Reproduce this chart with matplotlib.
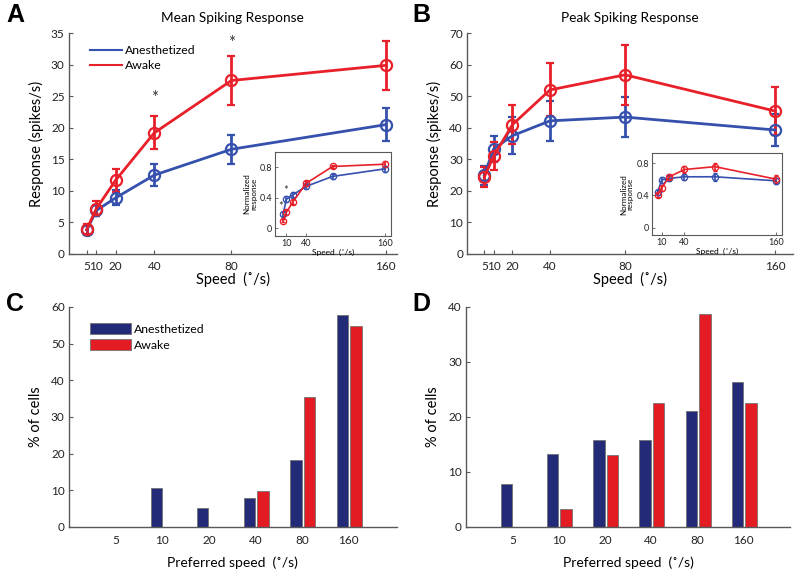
import matplotlib
matplotlib.use("Agg")
import matplotlib.pyplot as plt
from matplotlib.patches import Patch
import numpy as np

plt.rcParams['font.family'] = ['Lato', 'DejaVu Sans']

speeds = [5, 10, 20, 40, 80, 160]

# Panel A: mean spiking response
meanA_anes = [3.8, 6.9, 8.9, 12.5, 16.6, 20.5]
errA_anes = [0.7, 0.9, 1.2, 1.8, 2.3, 2.6]
meanA_awake = [3.9, 7.2, 11.7, 19.2, 27.5, 29.9]
errA_awake = [0.9, 1.2, 1.8, 2.6, 3.9, 3.9]
sigA_x = [40, 80]
sigA_y = [24.8, 33.4]

# Inset A: normalized
normA_anes = [0.19, 0.38, 0.44, 0.55, 0.68, 0.78]
nerrA_anes = [0.03, 0.04, 0.03, 0.03, 0.03, 0.04]
normA_awake = [0.10, 0.21, 0.35, 0.59, 0.81, 0.84]
nerrA_awake = [0.02, 0.03, 0.03, 0.03, 0.02, 0.04]
sigAi_x = [1.5, 9.5]
sigAi_y = [0.29, 0.50]

# Panel B: peak spiking response
peakB_anes = [25.0, 33.3, 37.5, 42.2, 43.4, 39.3]
errB_anes = [3.0, 4.0, 5.8, 6.3, 6.3, 5.0]
peakB_awake = [24.4, 31.0, 41.0, 52.0, 56.8, 45.3]
errB_awake = [3.3, 4.4, 6.2, 8.4, 9.5, 7.5]

# Inset B: normalized
normB_anes = [0.44, 0.59, 0.61, 0.63, 0.63, 0.58]
nerrB_anes = [0.03, 0.04, 0.03, 0.04, 0.05, 0.04]
normB_awake = [0.41, 0.49, 0.63, 0.72, 0.755, 0.60]
nerrB_awake = [0.03, 0.04, 0.03, 0.04, 0.05, 0.05]

# Panels C, D: preferred speed histograms
pref_labels = ['5', '10', '20', '40', '80', '160']
prefC_anes = [0.0, 10.5, 5.3, 7.9, 18.4, 57.9]
prefC_awake = [0.0, 0.0, 0.0, 9.7, 35.5, 54.8]
prefD_anes = [7.9, 13.2, 15.8, 15.8, 21.0, 26.3]
prefD_awake = [0.0, 3.3, 13.0, 22.5, 38.7, 22.5]

BLUE = '#3550ad'
RED = '#e8202a'
BAR_BLUE = '#232a78'
BAR_RED = '#e31b23'
SPINE = '0.35'

fig = plt.figure(figsize=(8.0, 5.72), dpi=100)

def style_main(ax):
    ax.spines['top'].set_visible(False)
    ax.spines['right'].set_visible(False)
    for s in ['left', 'bottom']:
        ax.spines[s].set_color(SPINE)
        ax.spines[s].set_linewidth(1.0)
    ax.tick_params(direction='in', length=3, width=0.8, colors=SPINE,
                   labelcolor='#222222', labelsize=8.5)
    ax.tick_params(axis='y', pad=3)
    ax.tick_params(axis='x', pad=5)

def line_panel(ax, y1, e1, y2, e2, ms=8, lw=2.0, cs=3):
    ax.errorbar(speeds, y1, yerr=e1, color=BLUE, marker='o', mfc='none', mec=BLUE,
                ms=ms, mew=lw*0.8, lw=lw, elinewidth=lw, capsize=cs, capthick=lw)
    ax.errorbar(speeds, y2, yerr=e2, color=RED, marker='o', mfc='none', mec=RED,
                ms=ms, mew=lw*0.8, lw=lw, elinewidth=lw, capsize=cs, capthick=lw)

def inset_style(ax):
    for s in ax.spines.values():
        s.set_color(SPINE)
        s.set_linewidth(0.8)
    ax.tick_params(direction='in', length=2, width=0.6, colors=SPINE,
                   labelcolor='#222222', labelsize=6.5, pad=2)
    ax.set_xlabel('Speed  (˚/s)', fontsize=6, labelpad=1)
    ax.set_ylabel('Normalized\nresponse', fontsize=5.8, labelpad=2, linespacing=1.0)

# ---------- Panel A ----------
axA = fig.add_axes([0.086, 0.556, 0.41, 0.386])
line_panel(axA, meanA_anes, errA_anes, meanA_awake, errA_awake)
axA.set_xlim(-4.3, 165.7)
axA.set_ylim(0, 35)
axA.set_xticks(speeds)
axA.set_xticklabels(['5', '10', '20', '40', '80', '160'])
axA.set_yticks(np.arange(0, 36, 5))
style_main(axA)
axA.set_xlabel('Speed  (˚/s)', fontsize=10.5, labelpad=0)
axA.set_ylabel('Response (spikes/s)', fontsize=10.5, labelpad=5)
axA.set_title('Mean Spiking Response', fontsize=9.8, pad=8)
for x, y in zip(sigA_x, sigA_y):
    axA.text(x, y, '*', ha='center', va='center', fontsize=12, color='#333333')
la1, = axA.plot([], [], color=BLUE, lw=1.5, label='Anesthetized')
la2, = axA.plot([], [], color=RED, lw=1.5, label='Awake')
axA.legend(handles=[la1, la2], loc='upper left', bbox_to_anchor=(0.04, 0.985), frameon=False,
           fontsize=8.8, handlelength=2.6, handletextpad=0.2, labelspacing=0.35,
           borderaxespad=0.3)

# Inset A
axAi = fig.add_axes([0.344, 0.5874, 0.145, 0.1469])
line_panel(axAi, normA_anes, nerrA_anes, normA_awake, nerrA_awake, ms=4.5, lw=1.2, cs=1.5)
axAi.set_xlim(-7, 169)
axAi.set_ylim(-0.1, 1.0)
axAi.set_xticks([10, 40, 160])
axAi.set_yticks([0, 0.4, 0.8])
axAi.set_yticklabels(['0', '0.4', '0.8'])
inset_style(axAi)
for x, y in zip(sigAi_x, sigAi_y):
    axAi.text(x, y, '*', ha='center', va='center', fontsize=8, color='#333333')

# ---------- Panel B ----------
axB = fig.add_axes([0.584, 0.556, 0.4075, 0.386])
line_panel(axB, peakB_anes, errB_anes, peakB_awake, errB_awake)
axB.set_xlim(-4.1, 169.6)
axB.set_ylim(0, 70)
axB.set_xticks(speeds)
axB.set_xticklabels(['5', '10', '20', '40', '80', '160'])
axB.set_yticks(np.arange(0, 71, 10))
style_main(axB)
axB.set_xlabel('Speed  (˚/s)', fontsize=10.5, labelpad=0)
axB.set_ylabel('Response (spikes/s)', fontsize=10.5, labelpad=5)
axB.set_title('Peak Spiking Response', fontsize=9.8, pad=8)

# Inset B
axBi = fig.add_axes([0.815, 0.589, 0.1625, 0.143])
line_panel(axBi, normB_anes, nerrB_anes, normB_awake, nerrB_awake, ms=4.5, lw=1.2, cs=1.5)
axBi.set_xlim(-2.5, 167.5)
axBi.set_ylim(-0.09, 0.92)
axBi.set_xticks([10, 40, 160])
axBi.set_yticks([0, 0.4, 0.8])
axBi.set_yticklabels(['0', '0.4', '0.8'])
inset_style(axBi)

# ---------- Panels C, D ----------
def bar_panel(ax, anes, awake, ymax, yticks, xlim):
    pos = np.arange(1, len(pref_labels) + 1)
    ax.bar(pos - 0.13, anes, width=0.245, color=BAR_BLUE, edgecolor='0.45', linewidth=0.6,
           label='Anesthetized')
    ax.bar(pos + 0.16, awake, width=0.245, color=BAR_RED, edgecolor='0.45', linewidth=0.6,
           label='Awake')
    ax.set_xlim(*xlim)
    ax.set_ylim(0, ymax)
    ax.set_xticks(pos)
    ax.set_xticklabels(pref_labels)
    ax.set_yticks(yticks)
    style_main(ax)
    ax.tick_params(axis='x', length=0, pad=6)
    ax.set_xlabel('Preferred speed  (˚/s)', fontsize=10, labelpad=7)
    ax.set_ylabel('% of cells', fontsize=10.5, labelpad=6)

axC = fig.add_axes([0.086, 0.0787, 0.41, 0.3846])
bar_panel(axC, prefC_anes, prefC_awake, 60, np.arange(0, 61, 10), (-0.01, 7.04))
axC.legend(handles=[Patch(facecolor=BAR_BLUE, edgecolor='0.45', linewidth=0.6, label='Anesthetized'),
                    Patch(facecolor=BAR_RED, edgecolor='0.45', linewidth=0.6, label='Awake')],
           loc='upper left', bbox_to_anchor=(0.03, 0.975), frameon=False, fontsize=8.8,
           handlelength=3.4, handleheight=1.0, handletextpad=0.2, labelspacing=0.35)

axD = fig.add_axes([0.5825, 0.0787, 0.405, 0.3846])
bar_panel(axD, prefD_anes, prefD_awake, 40, np.arange(0, 41, 10), (0.0, 7.0))

# Panel letters
for x, y, t in [(0.008, 0.995, 'A'), (0.515, 0.995, 'B'), (0.008, 0.49, 'C'), (0.515, 0.49, 'D')]:
    fig.text(x, y, t, fontsize=18, fontweight='bold', va='top', ha='left',
             family=['Liberation Sans', 'DejaVu Sans'])

fig.savefig('out.png', dpi=100)
